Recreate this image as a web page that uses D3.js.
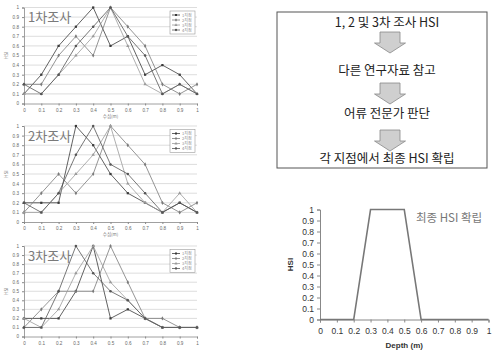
<!DOCTYPE html>
<html>
<head>
<meta charset="utf-8">
<script src="https://cdn.jsdelivr.net/npm/d3@7"></script>
<style>
  html, body { margin: 0; padding: 0; background: #fff; }
  svg { display: block; font-family: "Liberation Sans", Arial, sans-serif; }
  .kr { font-family: "Noto Sans CJK KR", "Noto Sans", sans-serif; }
</style>
</head>
<body>
<svg id="chart" width="496" height="351"></svg>
<script>
// Depth categories (m) shared by every panel
const depths = [0, 0.1, 0.2, 0.3, 0.4, 0.5, 0.6, 0.7, 0.8, 0.9, 1];
const hsiTicks = [0, 0.1, 0.2, 0.3, 0.4, 0.5, 0.6, 0.7, 0.8, 0.9, 1];
const siteNames = ["1지점", "2지점", "3지점", "4지점"];

// 1차조사 HSI per site
const survey1Site1 = [0.1, 0.3, 0.6, 0.8, 1.0, 0.6, 0.7, 0.3, 0.4, 0.3, 0.1];
const survey1Site2 = [0.2, 0.2, 0.5, 0.7, 0.5, 1.0, 0.8, 0.6, 0.2, 0.1, 0.2];
const survey1Site3 = [0.1, 0.1, 0.3, 0.5, 0.7, 1.0, 0.6, 0.2, 0.1, 0.2, 0.1];
const survey1Site4 = [0.2, 0.1, 0.3, 0.6, 0.8, 1.0, 0.7, 0.5, 0.1, 0.2, 0.1];

// 2차조사 HSI per site
const survey2Site1 = [0.2, 0.2, 0.2, 1.0, 0.8, 0.5, 0.3, 0.2, 0.1, 0.2, 0.1];
const survey2Site2 = [0.1, 0.3, 0.5, 0.3, 0.5, 1.0, 0.8, 0.6, 0.2, 0.1, 0.2];
const survey2Site3 = [0.1, 0.1, 0.3, 0.5, 0.7, 1.0, 0.4, 0.2, 0.1, 0.3, 0.1];
const survey2Site4 = [0.2, 0.1, 0.3, 0.7, 1.0, 0.6, 0.5, 0.3, 0.1, 0.2, 0.1];

// 3차조사 HSI per site
const survey3Site1 = [0.2, 0.2, 0.2, 0.5, 1.0, 0.2, 0.3, 0.2, 0.1, 0.1, 0.1];
const survey3Site2 = [0.1, 0.3, 0.5, 0.5, 0.5, 1.0, 0.6, 0.2, 0.2, 0.1, 0.1];
const survey3Site3 = [0.2, 0.1, 0.3, 0.7, 1.0, 0.6, 0.4, 0.2, 0.1, 0.1, 0.1];
const survey3Site4 = [0.1, 0.1, 0.5, 1.0, 0.7, 0.5, 0.4, 0.2, 0.1, 0.1, 0.1];

const surveyTitles = ["1차조사", "2차조사", "3차조사"];

// Final HSI curve
const finalHSI = [0, 0, 0, 1, 1, 1, 0, 0, 0, 0, 0];

// Flowchart steps
const flowSteps = ["1, 2 및 3차 조사 HSI", "다른 연구자료 참고", "어류 전문가 판단", "각 지점에서 최종 HSI 확립"];

const svg = d3.select("#chart");

const surveys = [
  [survey1Site1, survey1Site2, survey1Site3, survey1Site4],
  [survey2Site1, survey2Site2, survey2Site3, survey2Site4],
  [survey3Site1, survey3Site2, survey3Site3, survey3Site4]
];
const panelBoxes = [
  { top: 7.5, bottom: 103.5, xTitle: true },
  { top: 126, bottom: 222, xTitle: true },
  { top: 246, bottom: 336.5, xTitle: false }
];
const seriesColors = ["#3a3a3a", "#7a7a7a", "#9a9a9a", "#555555"];
const seriesSymbols = [d3.symbolSquare, d3.symbolDiamond, d3.symbolTriangle, d3.symbolCircle];

const xSmall = d3.scaleLinear().domain([0, 1]).range([24, 197]);

surveys.forEach((series, k) => {
  const box = panelBoxes[k];
  const y = d3.scaleLinear().domain([0, 1]).range([box.bottom, box.top]);
  const g = svg.append("g");

  // horizontal gridlines
  g.selectAll("line.grid").data(hsiTicks.slice(1)).join("line")
    .attr("x1", xSmall(0)).attr("x2", xSmall(1))
    .attr("y1", d => y(d)).attr("y2", d => y(d))
    .attr("stroke", "#cfcfcf").attr("stroke-width", 0.7);

  // axes
  const yAxis = d3.axisLeft(y).tickValues(hsiTicks).tickSize(2).tickFormat(d3.format("~g"));
  const gy = g.append("g").attr("transform", `translate(${xSmall(0)},0)`).call(yAxis);
  const xAxis = d3.axisBottom(xSmall).tickValues(depths).tickSize(2).tickFormat(d3.format("~g"));
  const gx = g.append("g").attr("transform", `translate(0,${y(0)})`).call(xAxis);
  [gx, gy].forEach(a => {
    a.select(".domain").attr("stroke", "#888").attr("stroke-width", 0.8);
    a.selectAll(".tick line").attr("stroke", "#888");
    a.selectAll("text").attr("font-size", 4.6).attr("fill", "#666");
  });

  // axis titles
  g.append("text").attr("class", "kr")
    .attr("transform", `translate(7.5,${(box.top + box.bottom) / 2}) rotate(-90)`)
    .attr("text-anchor", "middle").attr("font-size", 4.5).attr("fill", "#777").text("HSI");
  if (box.xTitle) {
    g.append("text").attr("class", "kr")
      .attr("x", (xSmall(0) + xSmall(1)) / 2).attr("y", box.bottom + 14)
      .attr("text-anchor", "middle").attr("font-size", 4.5).attr("fill", "#777").text("수심(m)");
  }

  // site lines and markers
  const line = d3.line().x((d, i) => xSmall(depths[i])).y(d => y(d));
  series.forEach((vals, s) => {
    g.append("path").datum(vals).attr("d", line)
      .attr("fill", "none").attr("stroke", seriesColors[s]).attr("stroke-width", 0.8);
    g.selectAll(null).data(vals).join("path")
      .attr("transform", (d, i) => `translate(${xSmall(depths[i])},${y(d)})`)
      .attr("d", d3.symbol().type(seriesSymbols[s]).size(5))
      .attr("fill", seriesColors[s]);
  });

  // survey title
  g.append("text").attr("class", "kr")
    .attr("x", 28).attr("y", box.top + 14.5)
    .attr("font-size", 13).attr("fill", "#7a7a7a").text(surveyTitles[k]);

  // legend
  const lg = g.append("g").attr("transform", `translate(170,${box.top + 3.5})`);
  lg.append("rect").attr("width", 25).attr("height", 23)
    .attr("fill", "#fff").attr("stroke", "#999").attr("stroke-width", 0.6);
  siteNames.forEach((name, s) => {
    const ly = 4 + s * 5;
    lg.append("line").attr("x1", 2).attr("x2", 10).attr("y1", ly).attr("y2", ly)
      .attr("stroke", seriesColors[s]).attr("stroke-width", 0.8);
    lg.append("path").attr("transform", `translate(6,${ly})`)
      .attr("d", d3.symbol().type(seriesSymbols[s]).size(4)).attr("fill", seriesColors[s]);
    lg.append("text").attr("class", "kr").attr("x", 12).attr("y", ly + 1.5)
      .attr("font-size", 4).attr("fill", "#888").text(name);
  });
});

// ---- Flowchart ----
const flow = svg.append("g");
flow.append("rect").attr("x", 277).attr("y", 12).attr("width", 210).attr("height", 156)
  .attr("fill", "#fff").attr("stroke", "#555").attr("stroke-width", 1);
const stepY = [26.5, 75, 118, 162.5];
const flowCx = 387;
flowSteps.forEach((t, i) => {
  flow.append("text").attr("class", "kr")
    .attr("x", flowCx).attr("y", stepY[i])
    .attr("text-anchor", "middle").attr("font-size", 12.5).attr("fill", "#222").text(t);
});
const arrowTops = [32, 83, 130];
arrowTops.forEach(t => {
  const cx = 390;
  const pts = [
    [cx - 10, t], [cx + 10, t], [cx + 10, t + 11], [cx + 15.5, t + 11],
    [cx, t + 21], [cx - 15.5, t + 11], [cx - 10, t + 11]
  ];
  flow.append("path").attr("d", d3.line()(pts) + "Z")
    .attr("fill", "#cfcfcf").attr("stroke", "#888").attr("stroke-width", 0.8);
});

// ---- Final HSI chart ----
const xF = d3.scaleLinear().domain([0, 1]).range([320, 488.5]);
const yF = d3.scaleLinear().domain([0, 1]).range([319.5, 209.5]);
const gF = svg.append("g");
const yAxisF = d3.axisLeft(yF).tickValues(hsiTicks).tickSize(3).tickFormat(d3.format("~g"));
const xAxisF = d3.axisBottom(xF).tickValues(depths).tickSize(3).tickFormat(d3.format("~g"));
const gyF = gF.append("g").attr("transform", `translate(${xF(0)},0)`).call(yAxisF);
const gxF = gF.append("g").attr("transform", `translate(0,${yF(0)})`).call(xAxisF);
[gxF, gyF].forEach(a => {
  a.select(".domain").attr("stroke", "#888").attr("stroke-width", 1);
  a.selectAll(".tick line").attr("stroke", "#888");
  a.selectAll("text").attr("font-size", 8.5).attr("fill", "#333");
});
gxF.selectAll("text").attr("dy", "1.0em");

gF.append("path").datum(finalHSI)
  .attr("d", d3.line().x((d, i) => xF(depths[i])).y(d => yF(d)))
  .attr("fill", "none").attr("stroke", "#777").attr("stroke-width", 1.6);

gF.append("text")
  .attr("transform", `translate(293,${(yF(0) + yF(1)) / 2}) rotate(-90)`)
  .attr("text-anchor", "middle").attr("font-size", 8).attr("font-weight", "bold")
  .attr("fill", "#333").text("HSI");
gF.append("text")
  .attr("x", (xF(0) + xF(1)) / 2).attr("y", 348)
  .attr("text-anchor", "middle").attr("font-size", 8).attr("font-weight", "bold")
  .attr("fill", "#333").text("Depth (m)");
gF.append("text").attr("class", "kr")
  .attr("x", 416).attr("y", 222)
  .attr("font-size", 11.5).attr("fill", "#777").text("최종 HSI 확립");
</script>
</body>
</html>
